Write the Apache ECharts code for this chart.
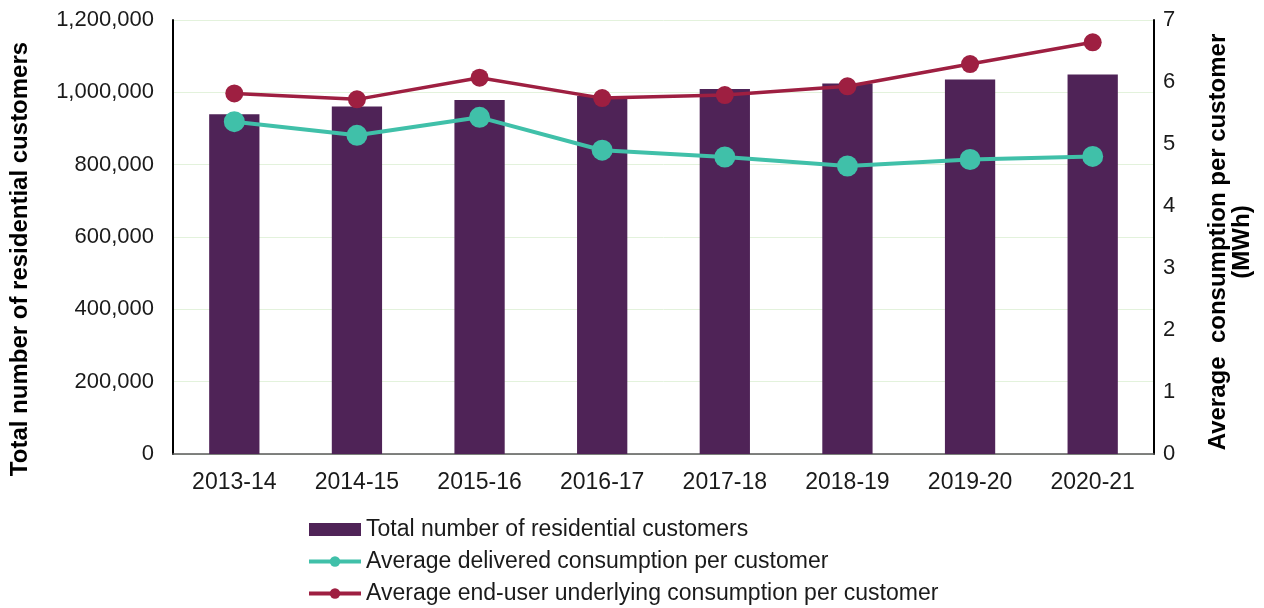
<!DOCTYPE html>
<html>
<head>
<meta charset="utf-8">
<script src="https://cdn.jsdelivr.net/npm/echarts@6/dist/echarts.min.js"></script>
<style>
html,body{margin:0;padding:0;background:#fff;}
#chart{width:1264px;height:608px;}
</style>
</head>
<body>
<div id="chart"></div>
<script>
const categories = ['2013-14','2014-15','2015-16','2016-17','2017-18','2018-19','2019-20','2020-21'];
const customers = [939500, 960500, 978500, 990000, 1009500, 1024500, 1035500, 1049500];
const delivered = [5.36, 5.14, 5.43, 4.90, 4.79, 4.645, 4.75, 4.80];
const underlying = [5.815, 5.72, 6.07, 5.74, 5.79, 5.93, 6.29, 6.64];
const seriesNames = ['Total number of residential customers','Average delivered consumption per customer','Average end-user underlying consumption per customer'];
const leftAxisName = 'Total number of residential customers';
const rightAxisName = 'Average  consumption per customer\n(MWh)';

function commas(v){ return String(v).replace(/\B(?=(\d{3})+(?!\d))/g, ','); }

const FONT = '"Liberation Sans", Arial, sans-serif';
const chart = echarts.init(document.getElementById('chart'));
chart.setOption({
  animation: false,
  textStyle: { fontFamily: FONT },
  grid: { left: 173, right: 110, top: 20, bottom: 154, containLabel: false, outerBoundsMode: 'none' },
  legend: {
    orient: 'vertical', left: 307, top: 518, height: 120, itemGap: 9, padding: 0,
    itemWidth: 52, itemHeight: 13,
    lineStyle: { width: 4 },
    textStyle: { fontSize: 23, color: '#1a1a1a', fontFamily: FONT },
    data: [
      { name: seriesNames[0], icon: 'rect' },
      { name: seriesNames[1] },
      { name: seriesNames[2] }
    ]
  },
  xAxis: {
    type: 'category', data: categories,
    axisLine: { lineStyle: { color: '#595959', width: 1.5 } },
    axisTick: { show: false },
    axisLabel: { fontSize: 23, color: '#1a1a1a', margin: 17 }
  },
  yAxis: [
    {
      type: 'value', min: 0, max: 1200000, interval: 200000,
      name: leftAxisName, nameLocation: 'middle', nameRotate: 90, nameGap: 141,
      nameTextStyle: { fontSize: 24, fontWeight: 'bold', color: '#000', padding: [0, 44, 0, 0] },
      axisLine: { show: true, lineStyle: { color: '#000', width: 2 } },
      axisTick: { show: false },
      axisLabel: { fontSize: 22, color: '#1a1a1a', margin: 19, formatter: v => commas(v) },
      splitLine: { show: true, lineStyle: { color: '#e3f2dc', width: 1 } }
    },
    {
      type: 'value', min: 0, max: 7, interval: 1, position: 'right',
      name: rightAxisName, nameLocation: 'middle', nameRotate: 90, nameGap: 52,
      nameTextStyle: { fontSize: 24, fontWeight: 'bold', color: '#000', lineHeight: 24, align: 'center', padding: [0, 10, 0, 0] },
      axisLine: { show: true, lineStyle: { color: '#000', width: 2 } },
      axisTick: { show: false },
      axisLabel: { fontSize: 22, color: '#1a1a1a', margin: 9 },
      splitLine: { show: false }
    }
  ],
  series: [
    {
      name: seriesNames[0], type: 'bar', yAxisIndex: 0, data: customers,
      barWidth: '41%', itemStyle: { color: '#4f2357' }
    },
    {
      name: seriesNames[1], type: 'line', yAxisIndex: 1, data: delivered,
      symbol: 'circle', symbolSize: 21,
      lineStyle: { color: '#40c0a9', width: 4 }, itemStyle: { color: '#40c0a9' }
    },
    {
      name: seriesNames[2], type: 'line', yAxisIndex: 1, data: underlying,
      symbol: 'circle', symbolSize: 18,
      lineStyle: { color: '#9e1f41', width: 3.5 }, itemStyle: { color: '#9e1f41' }
    }
  ]
});
</script>
</body>
</html>
